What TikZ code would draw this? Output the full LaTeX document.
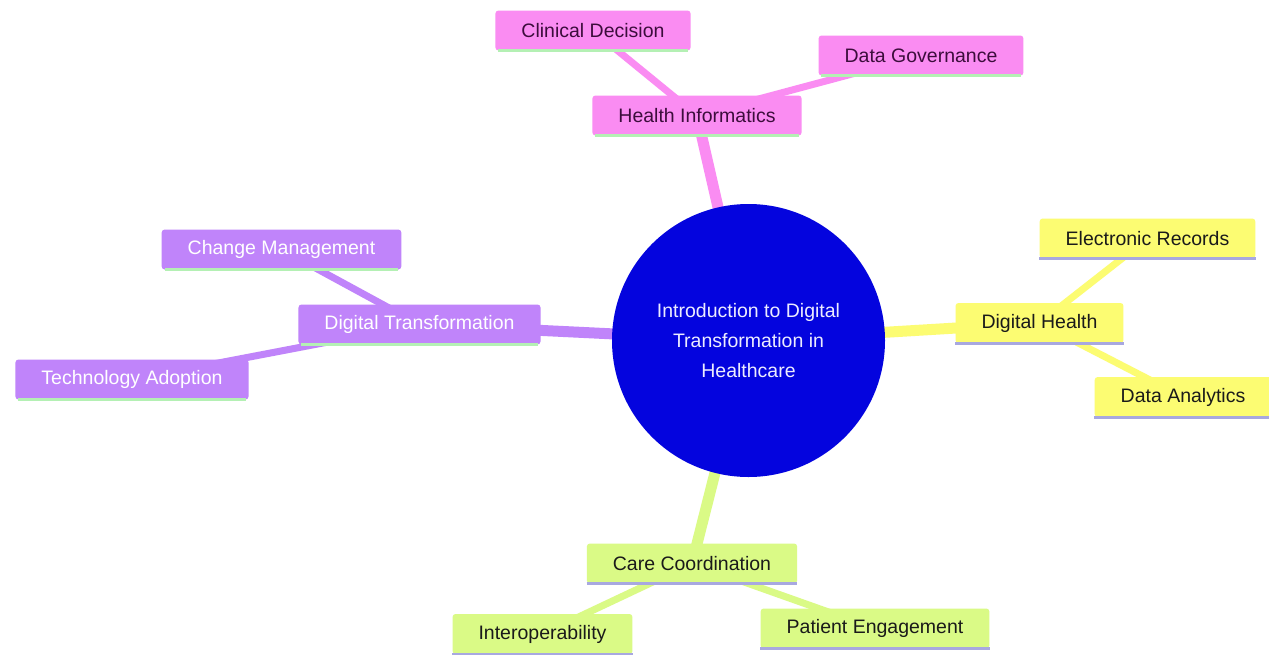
\documentclass[tikz,border=0pt]{standalone}
\usepackage{fontspec}
\setmainfont{Liberation Sans}
\usetikzlibrary{backgrounds}
\definecolor{pinkfill}{HTML}{FA8CF2}
\definecolor{pinktext}{HTML}{3C0D3C}
\definecolor{purplefill}{HTML}{C084FA}
\definecolor{yellowfill}{HTML}{FCFC72}
\definecolor{limefill}{HTML}{DAFA86}
\definecolor{darktext}{HTML}{1A1A1A}
\definecolor{greenline}{HTML}{B4F0B4}
\definecolor{lavline}{HTML}{A8A8E0}
\definecolor{rootblue}{HTML}{0404DE}
\definecolor{roottext}{HTML}{ECECFF}
\tikzset{
  box/.style={rectangle, rounded corners=3pt, minimum height=40pt, inner xsep=26pt, inner ysep=0pt,
    font=\fontsize{19.5}{24}\selectfont},
  pinkbox/.style={box, fill=pinkfill, text=pinktext},
  purplebox/.style={box, fill=purplefill, text=white},
  yellowbox/.style={box, fill=yellowfill, text=darktext},
  limebox/.style={box, fill=limefill, text=darktext},
  edgeone/.style={line width=11pt},
  edgetwo/.style={line width=7pt},
  uline/.style={line width=3pt}
}
\begin{document}
\begin{tikzpicture}[x=1pt,y=-1pt]
\useasboundingbox (0,0) rectangle (1269,654);
% root
\node[circle, fill=rootblue, text=roottext, minimum size=273pt, inner sep=0pt,
  align=center, font=\fontsize{19.5}{30}\selectfont] (root) at (748.5,340.5)
  {Introduction to Digital\\Transformation in\\Healthcare};
% pink
\node[pinkbox] (hi) at (697,115.5) {Health Informatics};
\node[pinkbox] (cd) at (593,30.5) {Clinical Decision};
\node[pinkbox] (dg) at (921,55.5) {Data Governance};
% purple
\node[purplebox] (dt) at (419.5,324.5) {Digital Transformation};
\node[purplebox] (cm) at (281.5,249.5) {Change Management};
\node[purplebox] (ta) at (132,379.5) {Technology Adoption};
% yellow
\node[yellowbox] (dh) at (1039.5,323) {Digital Health};
\node[yellowbox] (er) at (1147.5,238.5) {Electronic Records};
\node[yellowbox] (da) at (1183,397) {Data Analytics};
% lime
\node[limebox] (cc) at (692,563.5) {Care Coordination};
\node[limebox] (io) at (542.5,634) {Interoperability};
\node[limebox] (pe) at (875,628.5) {Patient Engagement};
% underlines
\foreach \n in {hi,cd,dg,dt,cm,ta}
  \draw[uline, greenline] ([xshift=3pt]\n.south west) -- ([xshift=-3pt]\n.south east);
\foreach \n in {dh,er,da,cc,io,pe}
  \draw[uline, lavline] (\n.south west) -- (\n.south east);
% edges
\begin{scope}[on background layer]
  \fill[white] (0,0) rectangle (1269,654);
  \draw[edgeone, pinkfill] (root.center) -- (hi.center);
  \draw[edgetwo, pinkfill] (hi.center) -- (cd.center);
  \draw[edgetwo, pinkfill] (hi.center) -- (dg.center);
  \draw[edgeone, purplefill] (root.center) -- (dt.center);
  \draw[edgetwo, purplefill] (dt.center) -- (cm.center);
  \draw[edgetwo, purplefill] (dt.center) -- (ta.center);
  \draw[edgeone, yellowfill] (root.center) -- (dh.center);
  \draw[edgetwo, yellowfill] (dh.center) -- (er.center);
  \draw[edgetwo, yellowfill] (dh.center) -- (da.center);
  \draw[edgeone, limefill] (root.center) -- (cc.center);
  \draw[edgetwo, limefill] (cc.center) -- (io.center);
  \draw[edgetwo, limefill] (cc.center) -- (pe.center);
\end{scope}
\end{tikzpicture}
\end{document}
